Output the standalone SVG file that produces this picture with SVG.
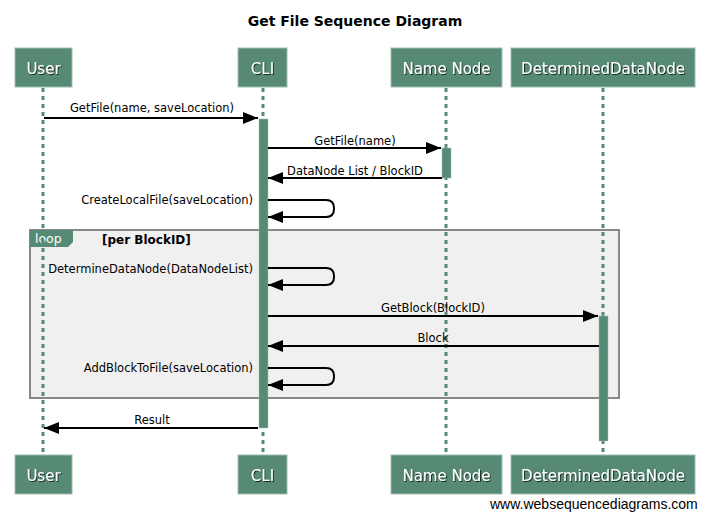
<svg xmlns="http://www.w3.org/2000/svg" width="711" height="518" viewBox="0 0 711 518">
<defs>
<marker id="ah" markerWidth="16" markerHeight="12" refX="15" refY="6" orient="auto" markerUnits="userSpaceOnUse">
<path d="M0,0 L15,6 L0,12 Z" fill="#000"/>
</marker>
<filter id="sh" x="-10%" y="-10%" width="130%" height="140%">
<feDropShadow dx="1" dy="1" stdDeviation="0.6" flood-color="#000" flood-opacity="0.7"/>
</filter>
</defs>
<style>
.title{font-family:"DejaVu Sans",Verdana,sans-serif;font-size:14px;font-weight:bold;fill:#000;text-anchor:middle}
.box{fill:#568a74;stroke:#9fbfb1;stroke-width:1}
.bt{font-family:"DejaVu Sans",Verdana,sans-serif;font-size:15px;fill:#fff;text-anchor:middle;filter:url(#sh)}
.life{stroke:#568a74;stroke-width:3;stroke-dasharray:4,4;fill:none}
.act{fill:#568a74;stroke:#9fbfb1;stroke-width:0.5}
.msg{stroke:#000;stroke-width:2;fill:none;marker-end:url(#ah)}
.lbl{font-family:"DejaVu Sans",Verdana,sans-serif;font-size:11.5px;fill:#000;text-anchor:middle}
.lblr{font-family:"DejaVu Sans",Verdana,sans-serif;font-size:11.5px;fill:#000;text-anchor:end}
.frame{fill:#f0f0f0;stroke:#888;stroke-width:2}
.tab{fill:#568a74}
.tabt{font-family:"DejaVu Sans",Verdana,sans-serif;font-size:12.5px;fill:#fff}
.cond{font-family:"DejaVu Sans",Verdana,sans-serif;font-size:12px;font-weight:bold;fill:#000}
.wm{font-family:"Liberation Sans",Arial,sans-serif;font-size:14px;fill:#000}
</style>
<text class="title" x="355" y="26">Get File Sequence Diagram</text>

<g id="loop-frame">
<rect class="frame" x="30" y="230" width="589" height="168"/>
<path class="tab" d="M30,230 L73,230 L73,242 L68,247 L30,247 Z"/>
<text class="tabt" x="35" y="243">loop</text>
<text class="cond" x="102" y="244">[per BlockID]</text>
</g>

<g id="lifelines">
<line class="life" x1="43" y1="88" x2="43" y2="455"/>
<line class="life" x1="263" y1="88" x2="263" y2="455"/>
<line class="life" x1="446" y1="88" x2="446" y2="455"/>
<line class="life" x1="603" y1="88" x2="603" y2="455"/>
</g>

<g id="activations">
<rect class="act" x="259" y="119" width="9" height="309"/>
<rect class="act" x="442" y="148" width="9" height="30"/>
<rect class="act" x="599" y="316" width="9" height="125"/>
</g>

<g id="connectors">
<line class="msg" x1="44" y1="118" x2="258" y2="118"/>
<text class="lbl" x="152" y="112">GetFile(name, saveLocation)</text>
<line class="msg" x1="268" y1="148" x2="441" y2="148"/>
<text class="lbl" x="355" y="145">GetFile(name)</text>
<line class="msg" x1="442" y1="178" x2="268" y2="178"/>
<text class="lbl" x="355" y="175">DataNode List / BlockID</text>
<path class="msg" d="M268,200 L326,200 Q334,200 334,208 L334,209 Q334,217 326,217 L268,217"/>
<text class="lblr" x="253" y="204">CreateLocalFile(saveLocation)</text>
<path class="msg" d="M268,268 L326,268 Q334,268 334,276 L334,277 Q334,285 326,285 L268,285"/>
<text class="lblr" x="253" y="273">DetermineDataNode(DataNodeList)</text>
<line class="msg" x1="268" y1="316" x2="598" y2="316"/>
<text class="lbl" x="433" y="312">GetBlock(BlockID)</text>
<line class="msg" x1="599" y1="346" x2="268" y2="346"/>
<text class="lbl" x="433" y="342">Block</text>
<path class="msg" d="M268,368 L326,368 Q334,368 334,376 L334,377 Q334,385 326,385 L268,385"/>
<text class="lblr" x="253" y="372">AddBlockToFile(saveLocation)</text>
<line class="msg" x1="258" y1="428" x2="44" y2="428"/>
<text class="lbl" x="152" y="424">Result</text>
</g>

<g id="user">
<rect class="box" x="15" y="48" width="57" height="39"/>
<text class="bt" x="43.5" y="74">User</text>
<rect class="box" x="15" y="455" width="57" height="39"/>
<text class="bt" x="43.5" y="481">User</text>
</g>
<g id="cli">
<rect class="box" x="238" y="48" width="49" height="39"/>
<text class="bt" x="262.5" y="74">CLI</text>
<rect class="box" x="238" y="455" width="49" height="39"/>
<text class="bt" x="262.5" y="481">CLI</text>
</g>
<g id="namenode">
<rect class="box" x="391" y="48" width="111" height="39"/>
<text class="bt" x="446.5" y="74">Name Node</text>
<rect class="box" x="391" y="455" width="111" height="39"/>
<text class="bt" x="446.5" y="481">Name Node</text>
</g>
<g id="determineddatanode">
<rect class="box" x="511" y="48" width="184" height="39"/>
<text class="bt" x="603" y="74">DeterminedDataNode</text>
<rect class="box" x="511" y="455" width="184" height="39"/>
<text class="bt" x="603" y="481">DeterminedDataNode</text>
</g>
<text class="wm" x="490" y="509">www.websequencediagrams.com</text>
</svg>
